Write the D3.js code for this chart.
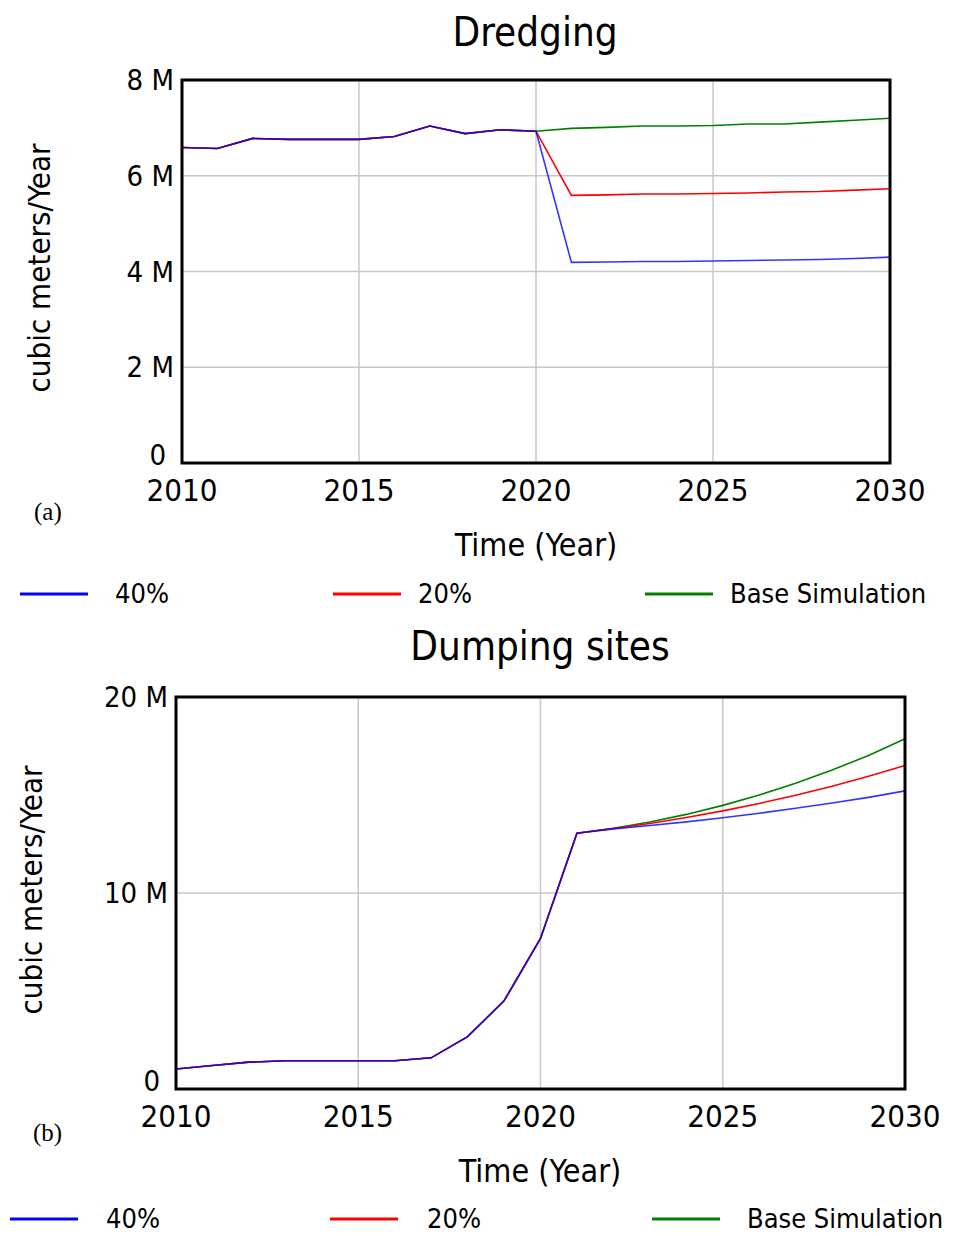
<!DOCTYPE html>
<html>
<head>
<meta charset="utf-8">
<script src="https://cdn.jsdelivr.net/npm/d3@7"></script>
<style>
  body { margin: 0; background: #fff; }
  svg text { font-family: "DejaVu Sans Condensed", "Liberation Sans", sans-serif; fill: #000; }
  .grid line { stroke: #c8c8c8; stroke-width: 1.5; }
  .frame { fill: none; stroke: #000; stroke-width: 3; }
  .series { fill: none; stroke-width: 1.6; }
</style>
</head>
<body>
<div id="chart"></div>
<script>
// years shared by both panels
const years = [2010, 2011, 2012, 2013, 2014, 2015, 2016, 2017, 2018, 2019, 2020,
               2021, 2022, 2023, 2024, 2025, 2026, 2027, 2028, 2029, 2030];
const seriesNames = ['40%', '20%', 'Base Simulation'];
const seriesColors = ['#0000ff', '#ff0000', '#008000'];
const xTicks = [2010, 2015, 2020, 2025, 2030];

// Dredging (million m3 / year)
const dredgingHistory = [6.59, 6.57, 6.78, 6.76, 6.76, 6.76, 6.82, 7.04, 6.88, 6.96, 6.93];
const dredging40 = [4.19, 4.20, 4.21, 4.21, 4.22, 4.23, 4.24, 4.25, 4.27, 4.30, 4.33];
const dredging20 = [5.59, 5.60, 5.62, 5.62, 5.63, 5.64, 5.66, 5.67, 5.70, 5.73, 5.77];
const dredgingBase = [6.99, 7.01, 7.04, 7.04, 7.05, 7.08, 7.08, 7.12, 7.16, 7.20];
const dredgingTicks = [0, 2, 4, 6, 8];

// Dumping sites (million m3 / year)
const dumpingHistory = [1.02, 1.20, 1.37, 1.44, 1.44, 1.44, 1.44, 1.59, 2.67, 4.50, 7.68, 13.05];
const dumping40 = [13.27, 13.44, 13.63, 13.84, 14.07, 14.32, 14.59, 14.88, 15.21];
const dumping20 = [13.29, 13.55, 13.85, 14.19, 14.57, 14.99, 15.45, 15.96, 16.51];
const dumpingBase = [13.30, 13.62, 14.01, 14.47, 15.00, 15.60, 16.27, 17.02, 17.87];
const dumpingTicks = [0, 10, 20];

const W = 954, H = 1236;
const svg = d3.select('#chart').append('svg')
    .attr('width', W)
    .attr('height', H);

function tickLabel(v) {
    return v === 0 ? '0' : v + ' M';
}

function panel(opts) {
    let x = d3.scaleLinear().domain([2010, 2030]).range([opts.left, opts.right]);
    let y = d3.scaleLinear().domain([0, opts.ymax]).range([opts.bottom, opts.top]);
    let g = svg.append('g');

    // title
    g.append('text')
        .attr('x', opts.titleX)
        .attr('y', opts.titleY)
        .attr('text-anchor', 'middle')
        .style('font-size', '40px')
        .text(opts.title);

    // gridlines
    let grid = g.append('g').attr('class', 'grid');
    grid.selectAll('.vg').data(xTicks).enter().append('line')
        .attr('x1', d => x(d)).attr('x2', d => x(d))
        .attr('y1', opts.top).attr('y2', opts.bottom);
    grid.selectAll('.hg').data(opts.yTicks).enter().append('line')
        .attr('x1', opts.left).attr('x2', opts.right)
        .attr('y1', d => y(d)).attr('y2', d => y(d));

    // series, base first so the scenario lines sit on top
    let line = d3.line().x(d => x(d[0])).y(d => y(d[1]));
    let hist = opts.history.map((v, i) => [years[i], v]);
    let n = hist.length;
    let branches = [opts.s40, opts.s20, opts.base].map(s =>
        hist.concat(s.map((v, i) => [years[n + i], v])));
    [2, 1, 0].forEach(i => {
        g.append('path')
            .attr('class', 'series')
            .attr('d', line(branches[i]))
            .attr('stroke', seriesColors[i])
            .attr('stroke-opacity', i === 0 ? 0.8 : 1);
    });

    g.append('rect')
        .attr('class', 'frame')
        .attr('x', opts.left).attr('y', opts.top)
        .attr('width', opts.right - opts.left)
        .attr('height', opts.bottom - opts.top);

    // y tick labels
    g.selectAll('.yl').data(opts.yTicks).enter().append('text')
        .attr('x', d => d === 0 ? opts.left - 16 : opts.left - 8)
        .attr('y', d => d === 0 ? y(d) + 2 : y(d) + 10)
        .attr('text-anchor', 'end')
        .style('font-size', '29px')
        .text(tickLabel);

    // x tick labels
    g.selectAll('.xl').data(xTicks).enter().append('text')
        .attr('x', d => x(d))
        .attr('y', opts.bottom + 38)
        .attr('text-anchor', 'middle')
        .style('font-size', '31px')
        .text(d => d);

    g.append('text')
        .attr('x', opts.xLabelX)
        .attr('y', opts.bottom + 93)
        .attr('text-anchor', 'middle')
        .style('font-size', '32px')
        .text('Time (Year)');

    g.append('text')
        .attr('transform', `translate(${opts.yLabelX},${opts.yLabelY}) rotate(-90)`)
        .attr('text-anchor', 'middle')
        .style('font-size', '31px')
        .text('cubic meters/Year');

    g.append('text')
        .attr('x', opts.tagX)
        .attr('y', opts.tagY)
        .style('font-family', '"Liberation Serif", serif')
        .style('font-size', '25px')
        .text(opts.tag);

    // legend
    let leg = g.selectAll('.leg').data(seriesNames).enter().append('g')
        .attr('transform', (d, i) => `translate(${opts.legendX[i]},${opts.legendY})`);
    leg.append('line')
        .attr('x1', 0).attr('x2', 68)
        .attr('stroke', (d, i) => seriesColors[i])
        .attr('stroke-width', 3);
    leg.append('text')
        .attr('x', (d, i) => opts.legendTextDx[i])
        .attr('y', 9)
        .style('font-size', '27px')
        .text(d => d);
}

panel({
    title: 'Dredging', titleX: 535, titleY: 46,
    left: 182, right: 890, top: 80, bottom: 463, ymax: 8,
    yTicks: dredgingTicks,
    history: dredgingHistory, s40: dredging40, s20: dredging20, base: dredgingBase,
    xLabelX: 536, yLabelX: 50, yLabelY: 268,
    tag: '(a)', tagX: 34, tagY: 520,
    legendX: [20, 333, 645], legendY: 594, legendTextDx: [95, 85, 85]
});

panel({
    title: 'Dumping sites', titleX: 540, titleY: 660,
    left: 176, right: 905, top: 697, bottom: 1089, ymax: 20,
    yTicks: dumpingTicks,
    history: dumpingHistory, s40: dumping40, s20: dumping20, base: dumpingBase,
    xLabelX: 540, yLabelX: 42, yLabelY: 890,
    tag: '(b)', tagX: 33, tagY: 1141,
    legendX: [10, 330, 652], legendY: 1219, legendTextDx: [96, 97, 95]
});
</script>
</body>
</html>
